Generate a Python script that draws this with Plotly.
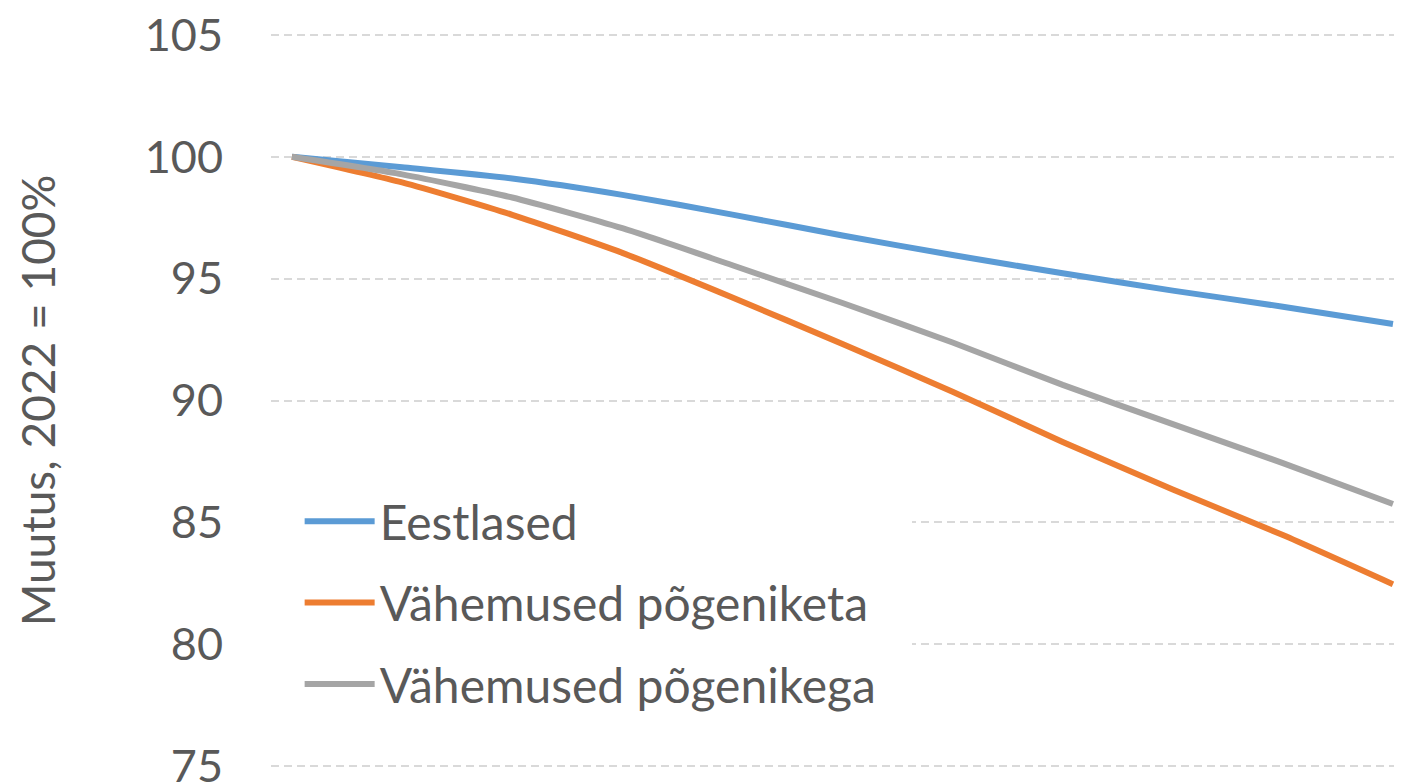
import plotly.graph_objects as go

years = [2022, 2027, 2032, 2037, 2042, 2047, 2052, 2057, 2062, 2067, 2072]
eestlased = [100.0, 99.57, 99.11, 98.44, 97.63, 96.77, 95.97, 95.22, 94.51, 93.85, 93.14]
pogeniketa = [100.0, 98.95, 97.62, 96.06, 94.23, 92.32, 90.36, 88.30, 86.35, 84.48, 82.46]
pogenikega = [100.0, 99.28, 98.33, 97.07, 95.55, 94.00, 92.38, 90.64, 89.03, 87.43, 85.75]

series_names = ["Eestlased", "Vähemused põgeniketa", "Vähemused põgenikega"]
series_values = [eestlased, pogeniketa, pogenikega]
colors = ["#5B9BD5", "#ED7D31", "#A5A5A5"]

y_ticks = [75, 80, 85, 90, 95, 100, 105]
y_title = "Muutus, 2022 = 100%"

FONT = "Lato, 'Open Sans', sans-serif"
TXT = "#595959"

fig = go.Figure()
for i, (name, vals, col) in enumerate(zip(series_names, series_values, colors)):
    fig.add_trace(go.Scatter(
        x=years, y=vals, name=name, mode="lines",
        line=dict(color=col, width=6, shape="spline", smoothing=0.6),
        legendgroup=f"g{i}",
    ))

# page body has an 8px default margin; figure sized to fill the rest
fig.update_layout(
    width=1394, height=776,
    margin=dict(l=263, r=0, t=22, b=13, autoexpand=False),
    paper_bgcolor="white", plot_bgcolor="white",
    font=dict(family=FONT, color=TXT, size=46),
    showlegend=True,
    legend=dict(
        x=-0.0012, y=0.4285, xanchor="left", yanchor="top",
        bgcolor="white", bordercolor="white", borderwidth=30,
        font=dict(size=48, color=TXT, family=FONT),
        tracegroupgap=16, itemwidth=70,
    ),
)
fig.update_xaxes(
    range=[2021.046, 2072.41], showgrid=False, showticklabels=False,
    zeroline=False, showline=False, ticks="", automargin=False,
)
fig.update_yaxes(
    range=[74.795, 105.205], tickvals=y_ticks, showgrid=True,
    gridcolor="#D9D9D9", gridwidth=1.5, griddash="8px,5px",
    zeroline=False, showline=False, ticks="", automargin=False,
    ticklabelstandoff=47, ticklabeloverflow="allow",
    tickfont=dict(size=45, color=TXT, family=FONT),
    title=dict(text=y_title, font=dict(size=46, color=TXT, family=FONT), standoff=74),
)

fig.write_html("out.html")
